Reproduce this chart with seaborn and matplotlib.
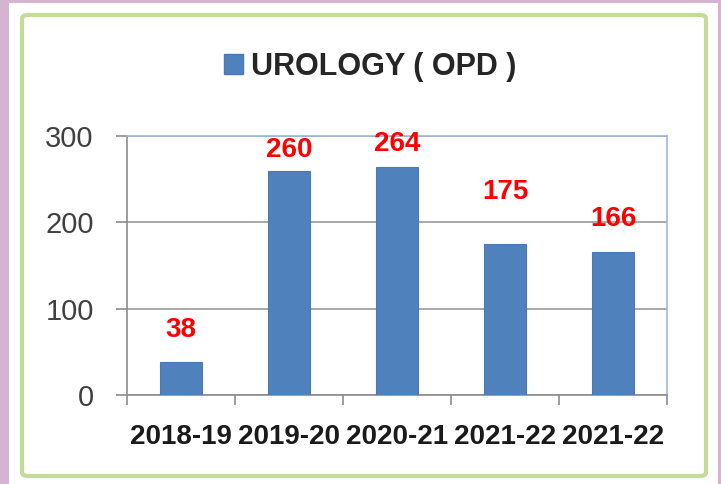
import numpy as np
import pandas as pd
import seaborn as sns
import matplotlib.pyplot as plt
from matplotlib.patches import Patch, Rectangle, FancyBboxPatch

# data
years = ["2018-19", "2019-20", "2020-21", "2021-22", "2021-22"]
opd = [38, 260, 264, 175, 166]
series_name = "UROLOGY ( OPD )"

# where the red value labels sit (data units), as placed in the original
label_y = [75, 284, 291, 235, 204]

sns.set_style("white")
plt.rcParams['font.family'] = ['Liberation Sans', 'DejaVu Sans']

W, H = 721, 484
fig = plt.figure(figsize=(W / 100, H / 100), dpi=100)
fig.patch.set_facecolor("#d5b4d2")

# white card + green rounded frame
fig.patches.append(Rectangle((9 / W, 0), (718 - 9) / W, (H - 3) / H,
                             transform=fig.transFigure, facecolor="white",
                             edgecolor="none", zorder=-2))
fig.patches.append(FancyBboxPatch((22 / W, 8 / H), (706 - 22) / W, (469 - 8) / H,
                                  boxstyle="round,pad=0,rounding_size=0.008",
                                  transform=fig.transFigure, facecolor="none",
                                  edgecolor="#c4dc98", linewidth=3, zorder=-1))

ax = fig.add_axes([127 / W, 89 / H, 540 / W, 259 / H])
df = pd.DataFrame({"pos": range(len(opd)), "opd": opd})
sns.barplot(data=df, x="pos", y="opd", color="#4f81bd", saturation=1,
            width=0.38, edgecolor="#4a7ab5", linewidth=0.8, ax=ax, zorder=3)

ax.set_xlim(-0.5, len(opd) - 0.5)
ax.set_ylim(0, 300)
ax.set_yticks([0, 100, 200, 300])
ax.yaxis.grid(True, color="#9a9a9a", linewidth=1.2, zorder=0)
ax.set_axisbelow(True)

ax.set_xticks(range(len(opd)))
ax.set_xticklabels(years, fontsize=20, fontweight="bold", color="#1a1a1a")
ax.set_xticks(np.arange(-0.5, len(opd), 1), minor=True)
ax.tick_params(axis="x", which="major", length=0, pad=21)
ax.tick_params(axis="x", which="minor", length=7, width=1.2, color="#8c8c8c",
               direction="out", bottom=True)
ax.tick_params(axis="y", length=8, width=1.2, color="#8c8c8c", direction="out",
               left=True, pad=16, labelsize=21, labelcolor="#404040")
ax.set_xlabel("")
ax.set_ylabel("")

for side in ["left", "bottom"]:
    ax.spines[side].set_color("#8c8c8c")
    ax.spines[side].set_linewidth(1.2)
for side in ["top", "right"]:
    ax.spines[side].set_color("#9bb9de")
    ax.spines[side].set_linewidth(1.2)
    ax.spines[side].set_visible(True)

for i, (v, ly) in enumerate(zip(opd, label_y)):
    ax.text(i, ly, str(v), ha="center", va="center", color="#ff0000",
            fontsize=20, fontweight="bold", zorder=5)

fig.legend(handles=[Patch(facecolor="#4f81bd", edgecolor="#4a7ab5")],
           labels=[series_name], loc="center", bbox_to_anchor=(370 / W, 1 - 67 / H),
           frameon=False, handlelength=0.65, handleheight=0.65,
           handletextpad=0.25, prop={"size": 22, "weight": "bold"})

fig.savefig("out.png", dpi=100, facecolor=fig.get_facecolor())
